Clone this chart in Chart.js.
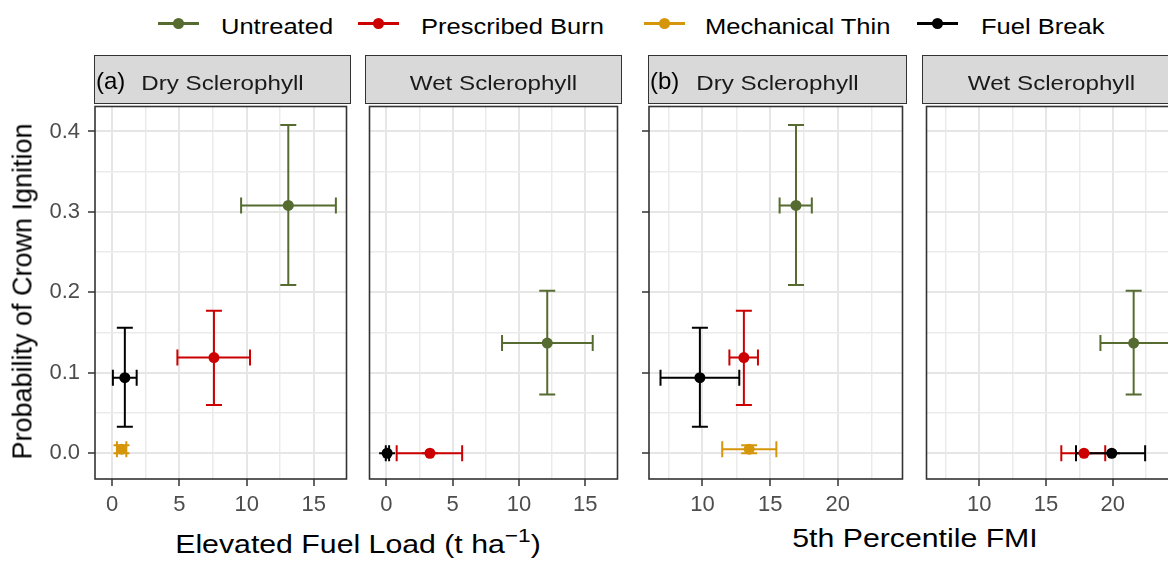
<!DOCTYPE html>
<html>
<head>
<meta charset="utf-8">
<script src="https://cdn.jsdelivr.net/npm/chart.js@4"></script>
<style>
  html, body { margin: 0; padding: 0; background: #fff; }
  body { width: 1168px; height: 561px; overflow: hidden; position: relative;
         font-family: 'Liberation Sans', Arial, sans-serif; color: #000; }
  canvas { position: absolute; }
  .strip { position: absolute; box-sizing: border-box; background: #D9D9D9; border: 1.5px solid #333; }
  .stxt { position: absolute; white-space: nowrap; text-align: center; font-size: 21px; line-height: 21px;
          color: #1A1A1A; transform: scaleX(1.15); transform-origin: center; }
  .tag { position: absolute; font-size: 24px; line-height: 24px; white-space: nowrap; }
  .lgline { position: absolute; width: 41px; height: 3px; }
  .lgdot { position: absolute; width: 11px; height: 11px; border-radius: 50%; }
  .lgtxt { position: absolute; font-size: 22px; line-height: 22px; white-space: nowrap;
           transform: scaleX(1.16); transform-origin: left center; }
  .xtitle { position: absolute; width: 600px; text-align: center; font-size: 25px; line-height: 25px;
            white-space: nowrap; transform: scaleX(1.21); transform-origin: center; }
  .ytitle { position: absolute; width: 500px; height: 27px; text-align: center; font-size: 27px;
            line-height: 27px; white-space: nowrap; transform: rotate(-90deg); transform-origin: center; }
</style>
</head>
<body>
<canvas id="p1"></canvas>
<canvas id="p2"></canvas>
<canvas id="p3"></canvas>
<canvas id="p4"></canvas>

<script>
const groups = ['Untreated', 'Prescribed Burn', 'Mechanical Thin', 'Fuel Break'];
const groupColours = ['#556B2F', '#CC0000', '#D6960C', '#000000'];

// probability of crown ignition, same for both x variables
const dryProb   = [0.308, 0.119, 0.005, 0.094];
const dryProbLo = [0.209, 0.060, 0.000, 0.033];
const dryProbHi = [0.408, 0.177, 0.010, 0.156];
const wetProb   = [0.137, 0.000, null, 0.000];
const wetProbLo = [0.073, 0.000, null, 0.000];
const wetProbHi = [0.202, 0.000, null, 0.000];

// (a) elevated fuel load (t/ha)
const dryFuel   = [13.10, 7.57, 0.69, 0.94];
const dryFuelLo = [9.59, 4.85, 0.35, 0.05];
const dryFuelHi = [16.64, 10.25, 1.05, 1.82];
const wetFuel   = [12.13, 3.28, null, 0.05];
const wetFuelLo = [8.72, 0.77, null, -0.05];
const wetFuelHi = [15.56, 5.71, null, 0.20];

// (b) 5th percentile FMI
const dryFmi   = [16.91, 13.06, 13.45, 9.81];
const dryFmiLo = [15.70, 11.99, 11.46, 6.90];
const dryFmiHi = [18.08, 14.10, 15.46, 12.72];
const wetFmi   = [21.57, 17.85, null, 19.93];
const wetFmiLo = [19.08, 16.15, null, 17.25];
const wetFmiHi = [24.25, 19.44, null, 22.43];

const probTicks = [0, 0.1, 0.2, 0.3, 0.4];
const fuelTicks = [0, 5, 10, 15];
const fmiTicks  = [10, 15, 20];

// axis ranges (ggplot expanded)
const probRange = [-0.032, 0.431];
const fuelRange = [-1.28, 17.43];
const fmiRange  = [6.05, 24.78];

// panel boxes in page pixels
const PTOP = 103, PBOT = 479;
const panels = [
  { id: 'p1', left: 95,  right: 350, strip: 'Dry Sclerophyll', tag: '(a)' },
  { id: 'p2', left: 366, right: 621, strip: 'Wet Sclerophyll' },
  { id: 'p3', left: 649, right: 906, strip: 'Dry Sclerophyll', tag: '(b)' },
  { id: 'p4', left: 923, right: 1180, strip: 'Wet Sclerophyll' }
];

Chart.defaults.font.family = "'Liberation Sans', Arial, sans-serif";

// major ticks plus ggplot style minor breaks half way between
function withMinor(major, range) {
  const step = major[1] - major[0];
  let t = major.map(v => ({ value: v, minor: false }));
  major.forEach(v => t.push({ value: v + step / 2, minor: true }));
  t.push({ value: major[0] - step / 2, minor: true });
  t = t.filter(o => o.value >= range[0] && o.value <= range[1]);
  t.sort((a, b) => a.value - b.value);
  return t;
}

function makeData(xs, xlo, xhi, ys, ylo, yhi) {
  const out = [];
  groups.forEach((g, i) => {
    if (xs[i] == null || ys[i] == null) return;
    out.push({
      label: g,
      order: groups.length - i,
      backgroundColor: groupColours[i],
      borderColor: groupColours[i],
      data: [{ x: xs[i], y: ys[i], xlo: xlo[i], xhi: xhi[i], ylo: ylo[i], yhi: yhi[i] }]
    });
  });
  return out;
}

const errorBars = {
  id: 'errorBars',
  beforeDatasetsDraw(chart) {
    const { ctx, chartArea: a } = chart;
    const xs = chart.scales.x, ys = chart.scales.y;
    const cap = 8;
    ctx.save();
    ctx.beginPath();
    ctx.rect(a.left, a.top, a.width, a.height);
    ctx.clip();
    ctx.lineWidth = 2;
    // vertical bars, then horizontal bars, in group order
    ['v', 'h'].forEach(dir => {
      chart.data.datasets.forEach(ds => {
        ctx.strokeStyle = ds.borderColor;
        ds.data.forEach(p => {
          const px = xs.getPixelForValue(p.x), py = ys.getPixelForValue(p.y);
          ctx.beginPath();
          if (dir === 'v') {
            const y0 = ys.getPixelForValue(p.ylo), y1 = ys.getPixelForValue(p.yhi);
            ctx.moveTo(px, y0); ctx.lineTo(px, y1);
            ctx.moveTo(px - cap, y0); ctx.lineTo(px + cap, y0);
            ctx.moveTo(px - cap, y1); ctx.lineTo(px + cap, y1);
          } else {
            const x0 = xs.getPixelForValue(p.xlo), x1 = xs.getPixelForValue(p.xhi);
            ctx.moveTo(x0, py); ctx.lineTo(x1, py);
            ctx.moveTo(x0, py - cap); ctx.lineTo(x0, py + cap);
            ctx.moveTo(x1, py - cap); ctx.lineTo(x1, py + cap);
          }
          ctx.stroke();
        });
      });
    });
    ctx.restore();
  }
};

const panelBorder = {
  id: 'panelBorder',
  afterDraw(chart) {
    const { ctx, chartArea: a } = chart;
    ctx.save();
    ctx.strokeStyle = '#333333';
    ctx.lineWidth = 1.6;
    ctx.strokeRect(a.left, a.top, a.width, a.height);
    ctx.restore();
  }
};

function gridOpts(drawTicks) {
  return {
    color: c => (c.tick && c.tick.minor) ? '#EBEBEB' : '#E6E6E6',
    lineWidth: c => (c.tick && c.tick.minor) ? 1.5 : 2,
    drawTicks: drawTicks,
    tickLength: 7,
    tickWidth: 1.5,
    tickColor: c => (c.tick && c.tick.minor) ? 'rgba(0,0,0,0)' : '#333333'
  };
}

function makePanel(p, xTicks, xRange, datasets, yMode) {
  // yMode: 'labels' | 'ticks' | 'none'
  const yW = yMode === 'labels' ? 60 : (yMode === 'ticks' ? 9 : 0);
  const padL = yMode === 'none' ? 2 : 0;
  const xH = 40;
  const cv = document.getElementById(p.id);
  const w = padL + yW + (p.right - p.left) + 2;
  const h = 2 + (PBOT - PTOP) + xH;
  cv.width = w; cv.height = h;
  cv.style.left = (p.left - yW - padL) + 'px';
  cv.style.top = (PTOP - 2) + 'px';

  new Chart(cv, {
    type: 'scatter',
    data: { datasets: datasets },
    options: {
      responsive: false,
      animation: false,
      layout: { padding: { left: padL, right: 2, top: 2, bottom: 0 } },
      plugins: { legend: { display: false }, tooltip: { enabled: false } },
      elements: { point: { radius: 5.5, borderWidth: 0, hoverRadius: 5.5 } },
      scales: {
        x: {
          type: 'linear', position: 'bottom',
          min: xRange[0], max: xRange[1],
          afterBuildTicks: s => { s.ticks = withMinor(xTicks, xRange); },
          afterFit: s => { s.height = xH; s.paddingLeft = 0; s.paddingRight = 0; },
          border: { display: false },
          grid: gridOpts(true),
          ticks: {
            autoSkip: false, maxRotation: 0, minRotation: 0, padding: 6,
            color: '#4D4D4D', font: { size: 22 },
            callback: (v, i, t) => t[i].minor ? '' : String(Math.round(v))
          }
        },
        y: {
          type: 'linear', position: 'left',
          min: probRange[0], max: probRange[1],
          afterBuildTicks: s => { s.ticks = withMinor(probTicks, probRange); },
          afterFit: s => { s.width = yW; s.paddingTop = 0; s.paddingBottom = 0; },
          border: { display: false },
          grid: gridOpts(yMode !== 'none'),
          ticks: {
            display: yMode === 'labels',
            autoSkip: false, padding: 8,
            color: '#4D4D4D', font: { size: 22 },
            callback: (v, i, t) => t[i].minor ? '' : v.toFixed(1)
          }
        }
      }
    },
    plugins: [errorBars, panelBorder]
  });
}

makePanel(panels[0], fuelTicks, fuelRange,
  makeData(dryFuel, dryFuelLo, dryFuelHi, dryProb, dryProbLo, dryProbHi), 'labels');
makePanel(panels[1], fuelTicks, fuelRange,
  makeData(wetFuel, wetFuelLo, wetFuelHi, wetProb, wetProbLo, wetProbHi), 'none');
makePanel(panels[2], fmiTicks, fmiRange,
  makeData(dryFmi, dryFmiLo, dryFmiHi, dryProb, dryProbLo, dryProbHi), 'ticks');
makePanel(panels[3], fmiTicks, fmiRange,
  makeData(wetFmi, wetFmiLo, wetFmiHi, wetProb, wetProbLo, wetProbHi), 'none');

// facet strips and tags
function addDiv(cls, text, css) {
  const d = document.createElement('div');
  d.className = cls;
  if (text != null) d.innerHTML = text;
  Object.assign(d.style, css);
  document.body.appendChild(d);
  return d;
}

panels.forEach(p => {
  addDiv('strip', null, {
    left: (p.left - 0.75) + 'px', top: '55.25px',
    width: (p.right - p.left + 1.5) + 'px', height: '48.5px'
  });
  addDiv('stxt', p.strip, {
    left: p.left + 'px', width: (p.right - p.left) + 'px', top: '71.5px'
  });
  if (p.tag) addDiv('tag', p.tag, { left: (p.left + 1) + 'px', top: '69px' });
});

// legend
const lgGlyphLeft = [158, 358, 644, 917];
const lgTextLeft = [221, 421, 705, 981];
groups.forEach((g, i) => {
  addDiv('lgline', null, { left: lgGlyphLeft[i] + 'px', top: '22px', background: groupColours[i] });
  addDiv('lgdot', null, { left: (lgGlyphLeft[i] + 15) + 'px', top: '18px', background: groupColours[i] });
  addDiv('lgtxt', g, { left: lgTextLeft[i] + 'px', top: '15.5px' });
});

// axis titles
addDiv('xtitle', 'Elevated Fuel Load (t ha<span style="font-size:0.75em;position:relative;top:-0.55em;line-height:0">\u22121</span>)',
  { left: (358 - 300) + 'px', top: '531.5px' });
addDiv('xtitle', '5th Percentile FMI', { left: (914.5 - 300) + 'px', top: '525.5px' });
addDiv('ytitle', 'Probability of Crown Ignition', { left: (23 - 250) + 'px', top: (291 - 13.5) + 'px' });
</script>
</body>
</html>
